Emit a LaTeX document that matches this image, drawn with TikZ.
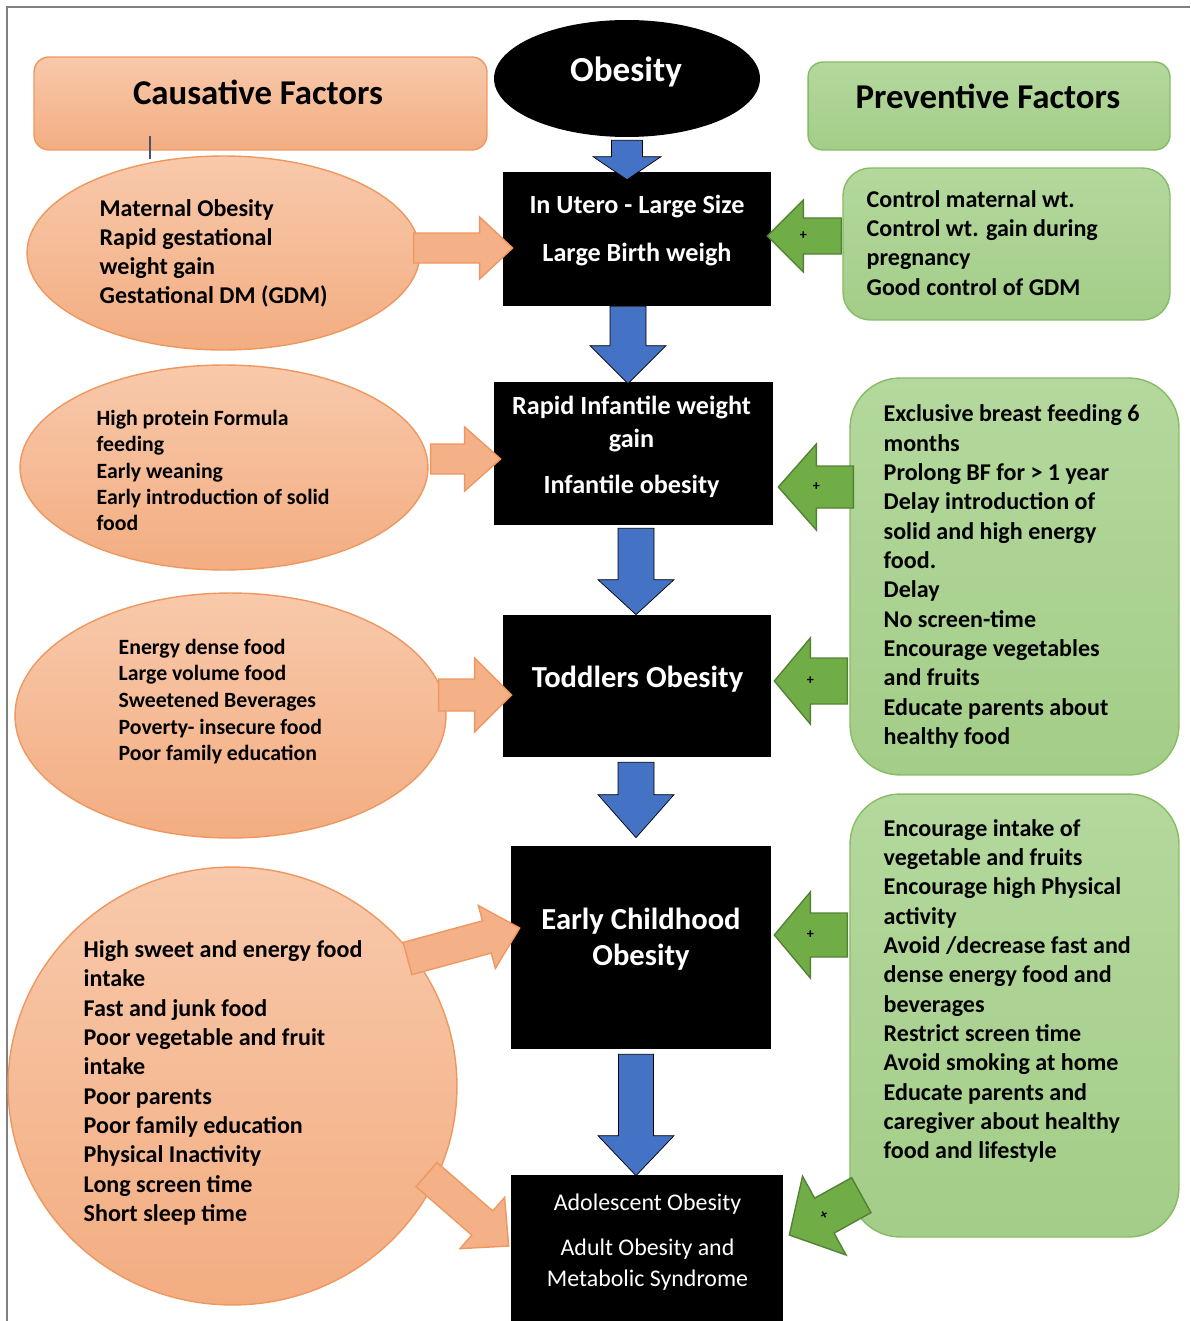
\documentclass[tikz,border=0pt]{standalone}
\usepackage{fontspec}
\setmainfont{Carlito}
\usetikzlibrary{shapes,calc,positioning}

\definecolor{causeTop}{HTML}{F8C9AB}
\definecolor{causeBot}{HTML}{F3AD81}
\definecolor{causeLine}{HTML}{EE9860}
\definecolor{prevTop}{HTML}{B4D89D}
\definecolor{prevBot}{HTML}{A3CD88}
\definecolor{prevLine}{HTML}{86BC64}
\definecolor{guardGreen}{HTML}{70AD47}
\definecolor{guardLine}{HTML}{548235}
\definecolor{flowBlue}{HTML}{4472C4}
\definecolor{stubLine}{HTML}{44546A}

\tikzstyle{layer}     = [rectangle, inner sep=0pt]
\tikzstyle{cause_fill}= [draw=causeLine, top color=causeTop, bottom color=causeBot]
\tikzstyle{prev_fill} = [draw=prevLine, top color=prevTop, bottom color=prevBot]
\tikzstyle{head_box}  = [layer, thick, rounded corners=0.3cm]
\tikzstyle{stage}     = [layer, fill=black]
\tikzstyle{cause_ell} = [ellipse, inner sep=0pt, thick, cause_fill]
\tikzstyle{prev_box}  = [layer, thick, prev_fill]
\tikzstyle{head_txt}  = [inner sep=0pt, font=\fontsize{19.8}{24}\selectfont\bfseries]
\tikzstyle{stage_txt} = [inner sep=0pt, text=white, align=center]
\tikzstyle{list_txt}  = [inner sep=0pt, anchor=west, align=left, font=\fontsize{13.7}{16.6}\selectfont\bfseries]
\tikzstyle{flow}      = [fill=flowBlue]
\tikzstyle{push}      = [fill=causeBot!85!causeTop, draw=causeLine, thick]
\tikzstyle{guard}     = [fill=guardGreen, draw=guardLine, thick]
\tikzstyle{sign}      = [inner sep=0pt, font=\fontsize{8}{8}\selectfont\bfseries]

% block arrow: style, from, to, half shaft, half head, head length
\newcommand{\fatarrow}[6]{%
  \draw[#1] let \p1=(#2), \p2=(#3), \n1={atan2(\y2-\y1,\x2-\x1)} in
    ($(\p1)+(\n1-90:#4)$) -- ($(\p2)+(\n1+180:#6)+(\n1-90:#4)$)
    -- ($(\p2)+(\n1+180:#6)+(\n1-90:#5)$) -- (\p2)
    -- ($(\p2)+(\n1+180:#6)+(\n1+90:#5)$) -- ($(\p2)+(\n1+180:#6)+(\n1+90:#4)$)
    -- ($(\p1)+(\n1+90:#4)$) -- cycle;
}
% plus sign at the base of an arrow head: from, to, head length, name
\newcommand{\plusmark}[4]{%
  \path let \p1=(#1), \p2=(#2), \n1={atan2(\y2-\y1,\x2-\x1)} in
    node[sign, rotate=\n1+180] (#4) at ($(\p2)+(\n1+180:#3)$) {+};
}

\begin{document}
\begin{tikzpicture}[x=0.02cm, y=0.02cm]
  \useasboundingbox (0,0) rectangle (1190,-1321);
  \clip (0,0) rectangle (1190,-1321);
  \draw[gray, line width=0.6pt] (1190,-7) -- (7,-7) -- (7,-1321);

  %%%%%%%%%%%%%%%%%%%%%%%%%%%%%%%%%%%%%%%%%%%%%%%%%
  % HEADINGS
  %%%%%%%%%%%%%%%%%%%%%%%%%%%%%%%%%%%%%%%%%%%%%%%%%
  \node[head_box, cause_fill, minimum width=9.06cm, minimum height=1.86cm] (cause) at (260.5,-103.5) {};
  \node[ellipse, fill=black, inner sep=0pt, minimum width=5.32cm, minimum height=2.34cm] (obesity) at (627,-78.5) {};
  \node[head_box, prev_fill, minimum width=7.24cm, minimum height=1.76cm] (prevent) at (989,-106) {};

  %%%%%%%%%%%%%%%%%%%%%%%%%%%%%%%%%%%%%%%%%%%%%%%%%
  % STAGES
  %%%%%%%%%%%%%%%%%%%%%%%%%%%%%%%%%%%%%%%%%%%%%%%%%
  \node[stage, minimum width=5.36cm, minimum height=2.68cm] (B1) at (637,-239) {};
  \node[stage, minimum width=5.58cm, minimum height=2.86cm] (B2) at (633.5,-453.5) {};
  \node[stage, minimum width=5.36cm, minimum height=2.84cm] (B3) at (637,-686) {};
  \node[stage, minimum width=5.2cm,  minimum height=4.06cm] (B4) at (641,-947.5) {};
  \node[stage, minimum width=5.44cm, minimum height=3.4cm]  (B5) at (647,-1260) {};

  %%%%%%%%%%%%%%%%%%%%%%%%%%%%%%%%%%%%%%%%%%%%%%%%%
  % CAUSES
  %%%%%%%%%%%%%%%%%%%%%%%%%%%%%%%%%%%%%%%%%%%%%%%%%
  \node[cause_ell, minimum width=7.86cm, minimum height=3.88cm] (E1) at (223.5,-253) {};
  \node[cause_ell, minimum width=8.16cm, minimum height=4.1cm]  (E2) at (224,-467.5) {};
  \node[cause_ell, minimum width=8.62cm, minimum height=4.9cm]  (E3) at (230.5,-715.5) {};
  \node[cause_ell, minimum width=8.98cm, minimum height=8.76cm] (E4) at (232.5,-1086) {};

  %%%%%%%%%%%%%%%%%%%%%%%%%%%%%%%%%%%%%%%%%%%%%%%%%
  % PREVENTION
  %%%%%%%%%%%%%%%%%%%%%%%%%%%%%%%%%%%%%%%%%%%%%%%%%
  \node[prev_box, rounded corners=0.55cm, minimum width=6.54cm, minimum height=3.04cm] (G1) at (1006.5,-244) {};
  \node[prev_box, rounded corners=1cm, minimum width=6.58cm, minimum height=7.94cm] (G2) at (1014.5,-576.5) {};
  \node[prev_box, rounded corners=1cm, minimum width=6.58cm, minimum height=8.86cm] (G3) at (1014.5,-1015.5) {};

  \draw[stubLine, line width=1.1pt] ($(cause.south)+(-110.5,15)$) -- ($(E1.north)+(-73.5,-4)$);

  % flow down
  \fatarrow{flow}{$(obesity.south)+(0,-3)$}{$(B1.north)+(-10,-8)$}{15.5}{34}{23}
  \fatarrow{flow}{$(B1.south)+(-9,0)$}{$(B2.north)+(-5.5,-2)$}{18}{38}{38}
  \fatarrow{flow}{$(B2.south)+(2.5,-3)$}{$(B3.north)+(-1,0)$}{18}{38}{35}
  \fatarrow{flow}{$(B3.south)+(-1,-5)$}{$(B4.north)+(-5,8)$}{18}{38}{43}
  \fatarrow{flow}{$(B4.south)+(-5,-5)$}{$(B5.north)+(-11,-1)$}{17.5}{38}{40}

  % causes push
  \fatarrow{push}{$(E1.east)+(-7,5)$}{$(B1.west)+(10,-9)$}{15}{31}{33}
  \fatarrow{push}{$(E2.east)+(2,8.5)$}{$(B2.west)+(7,-5.5)$}{15}{32}{36}
  \fatarrow{push}{$(E3.east)+(-8,20.5)$}{$(B3.west)+(9,-9)$}{16}{37}{37}
  \fatarrow{push}{$(E4.north east)+(15.8,-27.8)$}{$(B4.west)+(9,19.5)$}{16.7}{32.6}{34}
  \fatarrow{push}{$(E4.south east)+(34.8,66.8)$}{$(B5.west)+(-2,14)$}{16}{34}{35}

  % prevention guards
  \fatarrow{guard}{$(G1.west)+(-1,8)$}{$(B1.east)+(-4,3)$}{18}{36}{36}
  \plusmark{$(G1.west)+(-1,8)$}{$(B1.east)+(-4,3)$}{36}{s1}
  \fatarrow{guard}{$(G2.west)+(4,89.5)$}{$(B2.east)+(5,-33.5)$}{21}{43}{38}
  \plusmark{$(G2.west)+(4,89.5)$}{$(B2.east)+(5,-33.5)$}{38}{s2}
  \fatarrow{guard}{$(G2.west)+(-2,-104.5)$}{$(B3.east)+(3,5)$}{23}{43}{36}
  \plusmark{$(G2.west)+(-2,-104.5)$}{$(B3.east)+(3,5)$}{36}{s3}
  \fatarrow{guard}{$(G3.west)+(-2,80.5)$}{$(B4.east)+(3,12.5)$}{22}{43}{36}
  \plusmark{$(G3.west)+(-2,80.5)$}{$(B4.east)+(3,12.5)$}{36}{s4}
  \fatarrow{guard}{$(G3.south west)+(12,42.5)$}{$(B5.east)+(6,25)$}{20}{45}{40}
  \plusmark{$(G3.south west)+(12,42.5)$}{$(B5.east)+(6,25)$}{40}{s5}

  %%%%%%%%%%%%%%%%%%%%%%%%%%%%%%%%%%%%%%%%%%%%%%%%%
  % TEXTS
  %%%%%%%%%%%%%%%%%%%%%%%%%%%%%%%%%%%%%%%%%%%%%%%%%
  \node[head_txt] (causeT) at ($(cause)+(-2.5,11.5)$) {Causative Factors};
  \node[head_txt, text=white, font=\fontsize{20}{24}\selectfont\bfseries] (obesityT) at ($(obesity)+(-1,6.5)$) {Obesity};
  \node[head_txt] (preventT) at ($(prevent)+(-1,10)$) {Preventive Factors};

  \node[stage_txt, font=\fontsize{14.9}{27.8}\selectfont\bfseries] (B1t) at ($(B1)+(0,8.5)$)
    {In Utero - Large Size\\Large Birth weigh};
  \node[stage_txt, font=\fontsize{14.9}{18.7}\selectfont\bfseries] (B2t) at ($(B2)+(-2,6.5)$)
    {Rapid Infantile weight\\gain\\[7.9pt]Infantile obesity};
  \node[stage_txt, font=\fontsize{17.4}{20.4}\selectfont\bfseries] (B3t) at ($(B3)+(0.5,7)$)
    {Toddlers Obesity};
  \node[stage_txt, font=\fontsize{17.4}{20.4}\selectfont\bfseries] (B4t) at ($(B4)+(0,8.5)$)
    {Early Childhood\\Obesity};
  \node[stage_txt, font=\fontsize{13.6}{17.6}\selectfont] (B5t) at ($(B5)+(0.5,18)$)
    {Adolescent Obesity\\[7.9pt]Adult Obesity and\\Metabolic Syndrome};

  \node[list_txt] (E1t) at ($(E1.west)+(73,-0.5)$)
    {Maternal Obesity\\Rapid gestational\\weight gain\\Gestational DM (GDM)};
  \node[list_txt, font=\fontsize{12.4}{15}\selectfont\bfseries] (E2t) at ($(E2.west)+(77,-3)$)
    {High protein Formula\\feeding\\Early weaning\\Early introduction of solid\\food};
  \node[list_txt, font=\fontsize{12.4}{15.2}\selectfont\bfseries] (E3t) at ($(E3.west)+(104,14)$)
    {Energy dense food\\Large volume food\\Sweetened Beverages\\Poverty- insecure food\\Poor family education};
  \node[list_txt, font=\fontsize{13.7}{16.7}\selectfont\bfseries] (E4t) at ($(E4.west)+(76,3)$)
    {High sweet and energy food\\intake\\Fast and junk food\\Poor vegetable and fruit\\intake\\Poor parents\\
     Poor family education\\Physical Inactivity\\Long screen time\\Short sleep time};

  \node[list_txt] (G1t) at ($(G1.west)+(24,1)$)
    {Control maternal wt.\\Control wt. gain during\\pregnancy\\Good control of GDM};
  \node[list_txt, font=\fontsize{13.7}{16.7}\selectfont\bfseries] (G2t) at ($(G2.west)+(34,0)$)
    {Exclusive breast feeding 6\\months\\Prolong BF for > 1 year\\Delay introduction of\\solid and high energy\\
     food.\\Delay\\No screen-time\\Encourage vegetables\\and fruits\\Educate parents about\\healthy food};
  \node[list_txt, font=\fontsize{13.7}{16.7}\selectfont\bfseries] (G3t) at ($(G3.west)+(34,24.5)$)
    {Encourage intake of\\vegetable and fruits\\Encourage high Physical\\activity\\Avoid /decrease fast and\\
     dense energy food and\\beverages\\Restrict screen time\\Avoid smoking at home\\Educate parents and\\
     caregiver about healthy\\food and lifestyle};
\end{tikzpicture}
\end{document}
